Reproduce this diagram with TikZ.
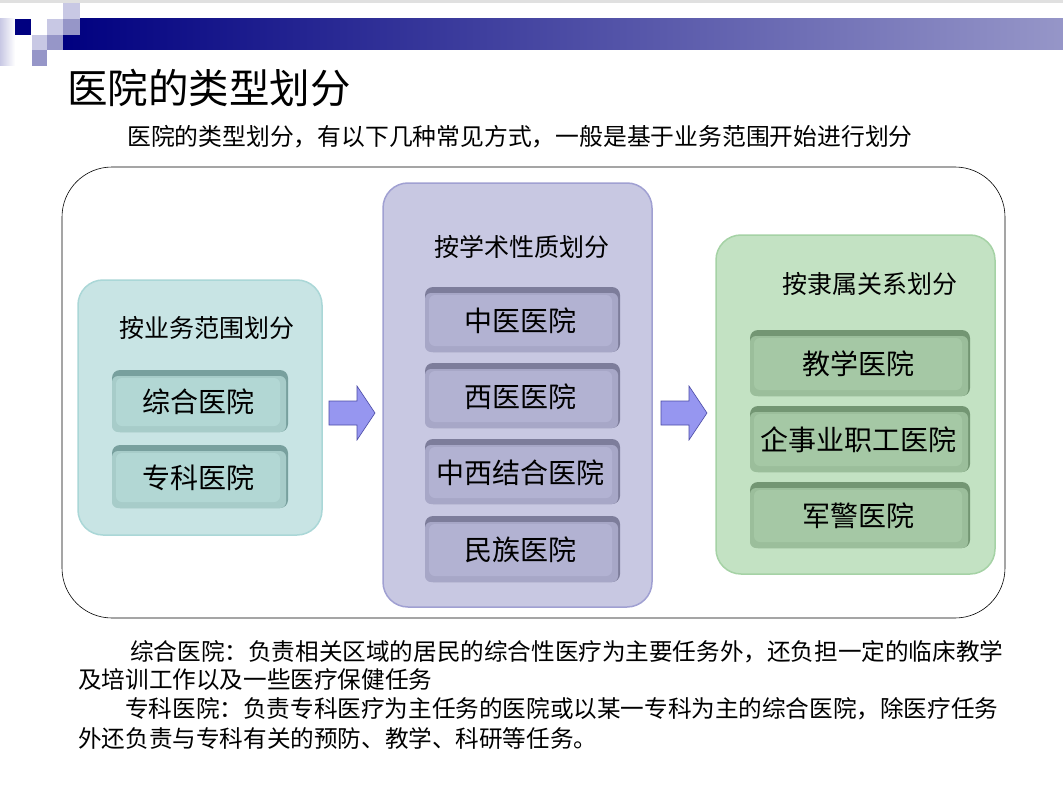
\documentclass[tikz,border=0pt]{standalone}
\usepackage{fontspec}
\setmainfont{Noto Sans CJK SC}
\definecolor{navy}{RGB}{0,0,128}
\definecolor{lav}{RGB}{200,200,228}
\definecolor{lavm}{RGB}{150,150,200}
\definecolor{tealbg}{RGB}{200,228,228}
\definecolor{tealbd}{RGB}{170,215,215}
\definecolor{tealface}{RGB}{178,215,212}
\definecolor{tealdark}{RGB}{120,160,158}
\definecolor{purbg}{RGB}{200,200,226}
\definecolor{purbd}{RGB}{160,160,210}
\definecolor{purface}{RGB}{178,178,210}
\definecolor{purdark}{RGB}{125,125,155}
\definecolor{grnbg}{RGB}{195,226,195}
\definecolor{grnbd}{RGB}{165,210,165}
\definecolor{grnface}{RGB}{165,200,165}
\definecolor{grndark}{RGB}{115,150,115}
\definecolor{arrowc}{RGB}{150,150,240}
\begin{document}
\begin{tikzpicture}[x=1pt,y=-1pt,
  grp/.style={rounded corners=25pt,line width=1.5pt},
  subtxt/.style={font=\fontsize{28}{32}\selectfont,inner sep=0pt},
  grptitle/.style={font=\fontsize{25}{28}\selectfont,inner sep=0pt},
  body/.style={font=\fontsize{23.6}{27}\selectfont,anchor=west,inner sep=0pt},
  bigarrow/.style={draw=navy!70,fill=arrowc,line width=0.6pt}]
\useasboundingbox (0,0) rectangle (1063,797);
\fill[white] (0,0) rectangle (1063,797);
% header
\fill[black!12] (0,0) rectangle (1063,3);
\shade[left color=navy,right color=lavm] (63,19) rectangle (1063,50);
\shade[left color=lav,right color=white] (0,19) rectangle (15,66);
\fill[navy] (15,19) rectangle (31,35);
\fill[lav] (63,3) rectangle (80,19);
\fill[lav] (47,19) rectangle (63,35);
\fill[lavm] (63,19) rectangle (80,35);
\fill[lav] (32,35) rectangle (47,50);
\fill[lavm] (47,35) rectangle (63,50);
\fill[lavm] (32,50) rectangle (47,66);
\node[inner sep=0pt,anchor=west,font=\fontsize{40.5}{46}\selectfont] (title) at (67,88) {医院的类型划分};
\node[inner sep=0pt,font=\fontsize{23.8}{27}\selectfont] (sub) at (520,137) {医院的类型划分，有以下几种常见方式，一般是基于业务范围开始进行划分};
% outer
\draw[rounded corners=50pt,line width=0.6pt] (62,167) rectangle (1005,618);
% groups
\draw[grp,draw=tealbd,fill=tealbg] (78,280) rectangle (322,535);
\draw[grp,draw=purbd,fill=purbg] (383,183) rectangle (652,607);
\draw[grp,draw=grnbd,fill=grnbg] (716,235) rectangle (995,574);
\node[grptitle] (t1) at (207,328) {按业务范围划分};
\node[grptitle] (t2) at (522,247) {按学术性质划分};
\node[grptitle] (t3) at (870,284) {按隶属关系划分};
\newcommand{\bev}[7]{% x1 y1 x2 y2 face dark text
  \fill[#6,rounded corners=8pt] (#1,#2) rectangle (#3,#4);
  \fill[#5!80!#6,rounded corners=6pt] (#1,#2+6) rectangle (#3-2,#4);
  \fill[#5,rounded corners=6pt] (#1+4,#2+8) rectangle (#3-8,#4-6);
  \node[subtxt] at ({(#1+#3)/2-2},{(#2+#4)/2+1}) {#7};}
\bev{112}{370}{288}{432}{tealface}{tealdark}{综合医院}
\bev{112}{445}{288}{508}{tealface}{tealdark}{专科医院}
\bev{425}{287}{620}{352}{purface}{purdark}{中医医院}
\bev{425}{363}{620}{428}{purface}{purdark}{西医医院}
\bev{425}{439}{620}{504}{purface}{purdark}{中西结合医院}
\bev{425}{516}{620}{582}{purface}{purdark}{民族医院}
\bev{750}{330}{970}{396}{grnface}{grndark}{教学医院}
\bev{750}{406}{970}{472}{grnface}{grndark}{企事业职工医院}
\bev{750}{482}{970}{548}{grnface}{grndark}{军警医院}
\draw[bigarrow] (329,401) -- (357,401) -- (357,386) -- (375,413) -- (357,440) -- (357,425) -- (329,425) -- cycle;
\draw[bigarrow] (661,401) -- (689,401) -- (689,386) -- (707,413) -- (689,440) -- (689,425) -- (661,425) -- cycle;
% body
\node[body] (b1) at (130,652) {综合医院：负责相关区域的居民的综合性医疗为主要任务外，还负担一定的临床教学};
\node[body] (b2) at (78,680) {及培训工作以及一些医疗保健任务};
\node[body] (b3) at (125,709) {专科医院：负责专科医疗为主任务的医院或以某一专科为主的综合医院，除医疗任务};
\node[body] (b4) at (78,738) {外还负责与专科有关的预防、教学、科研等任务。};
\end{tikzpicture}
\end{document}
